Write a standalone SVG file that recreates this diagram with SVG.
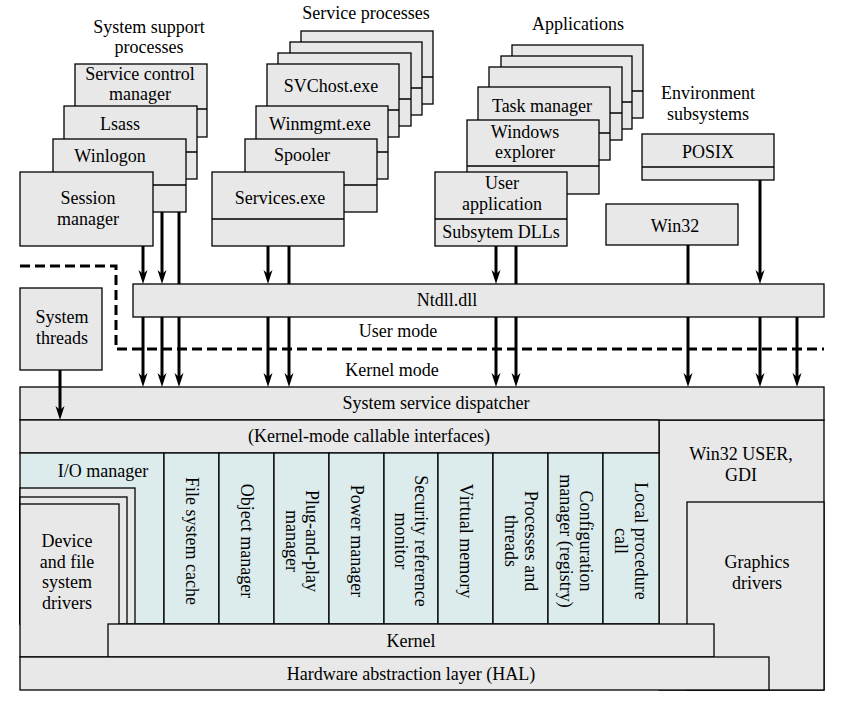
<svg xmlns="http://www.w3.org/2000/svg" width="844" height="702" viewBox="0 0 844 702">
<defs>
<style>
rect{stroke:#000;stroke-width:1.3}
.g{fill:#e8e8e8}
.b{fill:#dcecec}
.s{fill:none;stroke:#000;stroke-width:1.3}
text{font-family:"Liberation Serif","Times New Roman",serif;font-size:18px;fill:#000;text-anchor:middle}
.c line{stroke:#000;stroke-width:3}
.a{marker-end:url(#ah)}
</style>
<marker id="ah" markerUnits="userSpaceOnUse" viewBox="-1 -6 16 12" markerWidth="16" markerHeight="12" refX="8" refY="0" orient="auto">
<path d="M0,-4.5 L14,0 L0,4.5 L4,0 z" fill="#000"/>
</marker>
</defs>

<!-- headings -->
<g id="heading-support"><text x="149" y="33">System support</text><text x="149" y="53">processes</text></g>
<g id="heading-services"><text x="366" y="19">Service processes</text></g>
<g id="heading-apps"><text x="578" y="30">Applications</text></g>
<g id="heading-env"><text x="708" y="99">Environment</text><text x="708" y="120">subsystems</text></g>

<!-- system support stack -->
<g id="scm"><rect class="g" x="75" y="64" width="132" height="73"/><line class="s" x1="75" y1="109" x2="207" y2="109"/><text x="140" y="80">Service control</text><text x="140" y="100">manager</text></g>
<g id="lsass"><rect class="g" x="64" y="106" width="133" height="73"/><line class="s" x1="64" y1="152" x2="197" y2="152"/><text x="120" y="130">Lsass</text></g>
<g id="winlogon"><rect class="g" x="53" y="139" width="133" height="73"/><line class="s" x1="53" y1="185" x2="186" y2="185"/><text x="110" y="162">Winlogon</text></g>
<g id="session-manager"><rect class="g" x="20" y="172" width="133" height="74"/><text x="88" y="204">Session</text><text x="88" y="225">manager</text></g>

<!-- service stack -->
<g id="svc-back1"><rect class="g" x="301" y="31" width="132" height="73"/><line class="s" x1="301" y1="77" x2="433" y2="77"/></g>
<g id="svc-back2"><rect class="g" x="290" y="42" width="132" height="73"/><line class="s" x1="290" y1="88" x2="422" y2="88"/></g>
<g id="svc-back3"><rect class="g" x="278" y="53" width="133" height="73"/><line class="s" x1="278" y1="99" x2="411" y2="99"/></g>
<g id="svchost"><rect class="g" x="267" y="64" width="132" height="73"/><line class="s" x1="267" y1="110" x2="399" y2="110"/><text x="331" y="92">SVChost.exe</text></g>
<g id="winmgmt"><rect class="g" x="256" y="106" width="132" height="73"/><line class="s" x1="256" y1="152" x2="388" y2="152"/><text x="320" y="130">Winmgmt.exe</text></g>
<g id="spooler"><rect class="g" x="245" y="139" width="132" height="73"/><line class="s" x1="245" y1="185" x2="377" y2="185"/><text x="302" y="161">Spooler</text></g>
<g id="services"><rect class="g" x="212" y="172" width="132" height="74"/><line class="s" x1="212" y1="219" x2="344" y2="219"/><text x="280" y="204">Services.exe</text></g>

<!-- applications stack -->
<g id="app-back1"><rect class="g" x="512" y="45" width="131" height="73"/><line class="s" x1="512" y1="91" x2="643" y2="91"/></g>
<g id="app-back2"><rect class="g" x="501" y="56" width="131" height="73"/><line class="s" x1="501" y1="102" x2="632" y2="102"/></g>
<g id="app-back3"><rect class="g" x="489" y="67" width="133" height="73"/><line class="s" x1="489" y1="113" x2="622" y2="113"/></g>
<g id="task-manager"><rect class="g" x="478" y="87" width="132" height="73"/><line class="s" x1="478" y1="133" x2="610" y2="133"/><text x="542" y="112">Task manager</text></g>
<g id="explorer"><rect class="g" x="467" y="120" width="132" height="74"/><line class="s" x1="467" y1="166" x2="599" y2="166"/><text x="525" y="138">Windows</text><text x="525" y="158">explorer</text></g>
<g id="user-app"><rect class="g" x="435" y="172" width="132" height="74"/><line class="s" x1="435" y1="219" x2="567" y2="219"/><text x="502" y="189">User</text><text x="502" y="210">application</text><text x="501" y="238">Subsytem DLLs</text></g>

<!-- environment subsystems -->
<g id="posix"><rect class="g" x="642" y="134" width="132" height="46"/><line class="s" x1="642" y1="167" x2="774" y2="167"/><text x="708" y="158">POSIX</text></g>
<g id="win32"><rect class="g" x="606" y="204" width="132" height="41"/><text x="675" y="232">Win32</text></g>

<!-- ntdll -->
<g id="ntdll"><rect class="g" x="133" y="284" width="691" height="33"/><text x="447" y="306">Ntdll.dll</text></g>

<!-- system threads -->
<g id="system-threads"><rect class="g" x="20" y="288" width="82" height="82"/><text x="62" y="323">System</text><text x="62" y="344">threads</text></g>

<!-- mode boundary -->
<g id="mode-boundary"><path d="M20,266 H116 V349 H824" fill="none" stroke="#000" stroke-width="3" stroke-dasharray="10 5"/><text x="398" y="337">User mode</text><text x="392" y="376">Kernel mode</text></g>

<!-- kernel part -->
<g id="win32-user-gdi"><rect class="g" x="659" y="420" width="165" height="270"/><text x="741" y="460">Win32 USER,</text><text x="741" y="481">GDI</text></g>
<g id="graphics-drivers"><rect class="g" x="687" y="502" width="137" height="188"/><text x="757" y="568">Graphics</text><text x="757" y="589">drivers</text></g>
<g id="dispatcher"><rect class="g" x="20" y="387" width="804" height="33"/><text x="436" y="409">System service dispatcher</text></g>
<g id="callable"><rect class="g" x="20" y="420" width="639" height="33"/><text x="369" y="442">(Kernel-mode callable interfaces)</text></g>

<g id="io-manager"><rect class="b" x="20" y="453" width="144" height="171"/><text x="103" y="477">I/O manager</text></g>
<g id="driver-stack"><rect class="g" x="20" y="488" width="115" height="136"/><rect class="g" x="20" y="497" width="107" height="127"/></g>
<g id="device-drivers"><rect class="g" x="20" y="504" width="99" height="153"/><text x="67" y="547">Device</text><text x="67" y="568">and file</text><text x="67" y="588">system</text><text x="67" y="609">drivers</text></g>

<g id="fs-cache"><rect class="b" x="164" y="453" width="55" height="171"/><text transform="translate(191.5,541) rotate(90)" y="6">File system cache</text></g>
<g id="object-manager"><rect class="b" x="219" y="453" width="55" height="171"/><text transform="translate(246.5,541) rotate(90)" y="6">Object manager</text></g>
<g id="pnp-manager"><rect class="b" x="274" y="453" width="55" height="171"/><text transform="translate(301.5,541) rotate(90)"><tspan x="0" y="-4">Plug-and-play</tspan><tspan x="0" y="16">manager</tspan></text></g>
<g id="power-manager"><rect class="b" x="329" y="453" width="55" height="171"/><text transform="translate(356.5,541) rotate(90)" y="6">Power manager</text></g>
<g id="security-monitor"><rect class="b" x="384" y="453" width="54" height="171"/><text transform="translate(411,541) rotate(90)"><tspan x="0" y="-4">Security reference</tspan><tspan x="0" y="16">monitor</tspan></text></g>
<g id="virtual-memory"><rect class="b" x="438" y="453" width="55" height="171"/><text transform="translate(465.5,541) rotate(90)" y="6">Virtual memory</text></g>
<g id="processes-threads"><rect class="b" x="493" y="453" width="55" height="171"/><text transform="translate(520.5,541) rotate(90)"><tspan x="0" y="-4">Processes and</tspan><tspan x="0" y="16">threads</tspan></text></g>
<g id="config-manager"><rect class="b" x="548" y="453" width="55" height="171"/><text transform="translate(576,541) rotate(90)"><tspan x="0" y="-4">Configuration</tspan><tspan x="0" y="16">manager (registry)</tspan></text></g>
<g id="lpc"><rect class="b" x="603" y="453" width="56" height="171"/><text transform="translate(630.5,541) rotate(90)"><tspan x="0" y="-4">Local procedure</tspan><tspan x="0" y="16">call</tspan></text></g>

<g id="kernel"><rect class="g" x="108" y="624" width="606" height="33"/><text x="411" y="647">Kernel</text></g>
<g id="hal"><rect class="g" x="20" y="657" width="749" height="33"/><text x="411" y="680">Hardware abstraction layer (HAL)</text></g>

<!-- connectors -->
<g id="connectors" class="c">
<line class="a" x1="143" y1="246" x2="143" y2="278"/>
<line class="a" x1="162" y1="212" x2="162" y2="278"/>
<line x1="179" y1="212" x2="179" y2="284"/>
<line class="a" x1="268" y1="246" x2="268" y2="278"/>
<line x1="289" y1="246" x2="289" y2="284"/>
<line class="a" x1="496" y1="246" x2="496" y2="278"/>
<line x1="516" y1="246" x2="516" y2="284"/>
<line x1="688" y1="245" x2="688" y2="284"/>
<line class="a" x1="760" y1="180" x2="760" y2="278"/>
<line class="a" x1="143" y1="317" x2="143" y2="381"/>
<line class="a" x1="162" y1="317" x2="162" y2="381"/>
<line class="a" x1="179" y1="317" x2="179" y2="381"/>
<line class="a" x1="268" y1="317" x2="268" y2="381"/>
<line class="a" x1="289" y1="317" x2="289" y2="381"/>
<line class="a" x1="496" y1="317" x2="496" y2="381"/>
<line class="a" x1="516" y1="317" x2="516" y2="381"/>
<line class="a" x1="688" y1="317" x2="688" y2="381"/>
<line class="a" x1="760" y1="317" x2="760" y2="381"/>
<line class="a" x1="797" y1="317" x2="797" y2="381"/>
<line class="a" x1="60" y1="370" x2="60" y2="414"/>
</g>
</svg>
